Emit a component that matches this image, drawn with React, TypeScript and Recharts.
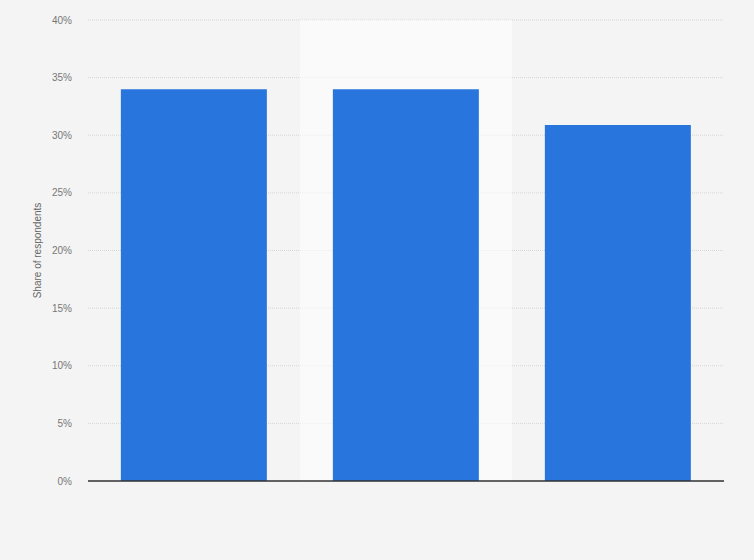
import { BarChart, Bar, XAxis, YAxis, CartesianGrid, ReferenceArea } from "recharts";

const categories = ["Category 1", "Category 2", "Category 3"];
const shares = [34, 34, 30.9];
const yTicks = [0, 5, 10, 15, 20, 25, 30, 35, 40];
const highlighted = "Category 2";

const data = categories.map((name, i) => ({ name, share: shares[i] }));

const font = "'Liberation Sans', Arial, sans-serif";

export default function App() {
  return (
    <div style={{ position: "absolute", left: 0, top: 0, width: 754, height: 560, background: "#f4f4f4" }}>
      <BarChart
        width={754}
        height={560}
        data={data}
        margin={{ top: 20, right: 30, bottom: 78, left: 28 }}
        barCategoryGap="15.5%"
      >
        <CartesianGrid vertical={false} stroke="#d6d6d6" strokeDasharray="1 1" />
        <ReferenceArea x1={highlighted} x2={highlighted} fill="#ffffff" fillOpacity={0.55} stroke="none" />
        <XAxis dataKey="name" tick={false} tickLine={false} height={1} axisLine={{ stroke: "#333", strokeWidth: 1.5 }} />
        <YAxis
          width={60}
          domain={[0, 40]}
          ticks={yTicks}
          tickFormatter={(v) => `${v}%`}
          axisLine={false}
          tickLine={false}
          tickSize={0}
          tickMargin={16}
          tick={{ fill: "#777", fontSize: 10, fontFamily: font }}
          label={{
            value: "Share of respondents",
            angle: -90,
            position: "insideLeft",
            offset: 9,
            style: { fill: "#666", fontSize: 10, fontFamily: font, textAnchor: "middle" },
          }}
        />
        <Bar dataKey="share" fill="#2876dd" isAnimationActive={false} />
      </BarChart>
    </div>
  );
}
